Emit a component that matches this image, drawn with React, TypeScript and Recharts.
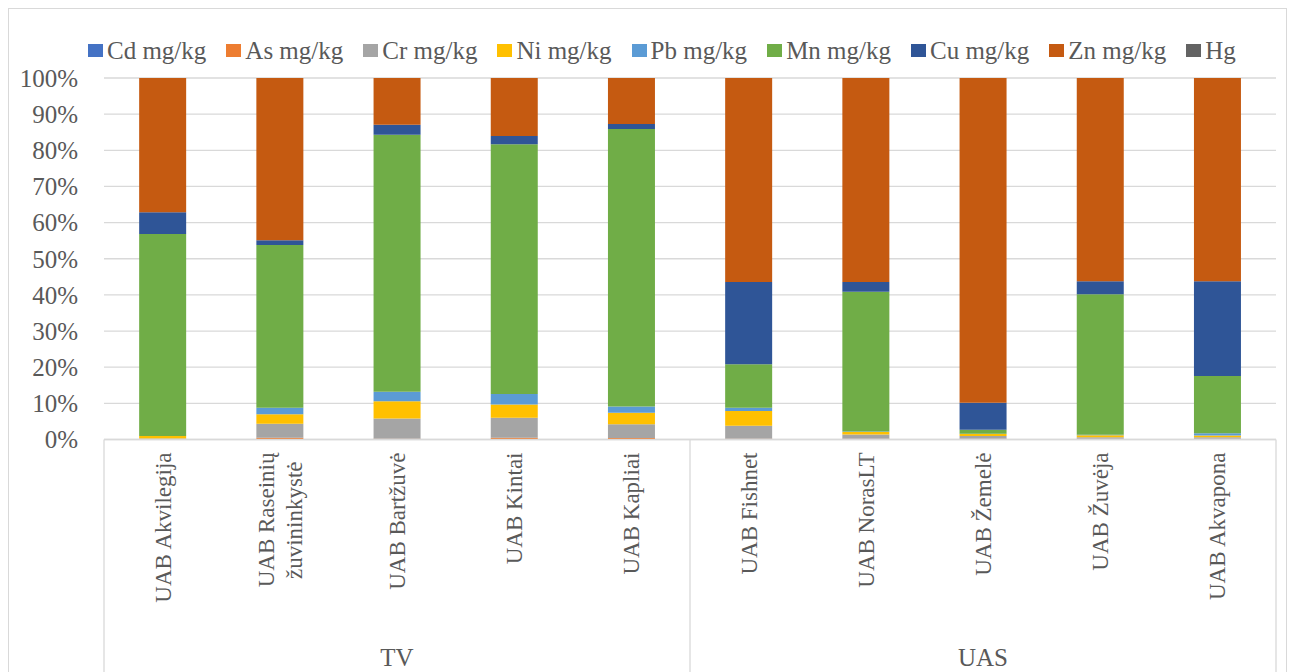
import React from 'react';
import { BarChart, Bar, XAxis, YAxis, CartesianGrid } from 'recharts';

const companies = [
  'UAB Akvilegija',
  'UAB Raseinių\nžuvininkystė',
  'UAB Bartžuvė',
  'UAB Kintai',
  'UAB Kapliai',
  'UAB Fishnet',
  'UAB NorasLT',
  'UAB Žemelė',
  'UAB Žuvėja',
  'UAB Akvapona',
];
const groups = ['TV', 'TV', 'TV', 'TV', 'TV', 'UAS', 'UAS', 'UAS', 'UAS', 'UAS'];

const seriesNames = ['Cd mg/kg', 'As mg/kg', 'Cr mg/kg', 'Ni mg/kg', 'Pb mg/kg', 'Mn mg/kg', 'Cu mg/kg', 'Zn mg/kg', 'Hg'];
const seriesKeys = ['cd', 'as', 'cr', 'ni', 'pb', 'mn', 'cu', 'zn', 'hg'];
const seriesColors = ['#4472C4', '#ED7D31', '#A5A5A5', '#FFC000', '#5B9BD5', '#70AD47', '#2F5597', '#C55A11', '#636363'];

const cd = [0, 0.05, 0, 0, 0, 0, 0, 0, 0, 0];
const asv = [0.1, 0.4, 0.2, 0.5, 0.4, 0.2, 0.2, 0.2, 0.2, 0.2];
const cr = [0.2, 3.9, 5.6, 5.5, 3.8, 3.6, 1.2, 0.8, 0.4, 0.4];
const ni = [0.65, 2.65, 4.8, 3.7, 3.2, 4.1, 0.7, 0.5, 0.6, 0.5];
const pb = [0.05, 1.8, 2.6, 2.9, 1.7, 0.9, 0.1, 0.1, 0.1, 0.6];
const mn = [55.85, 45.0, 71.1, 69.1, 76.8, 12.0, 38.7, 1.1, 38.9, 15.9];
const cu = [6.0, 1.3, 2.8, 2.25, 1.4, 22.8, 2.7, 7.5, 3.55, 26.15];
const zn = [37.15, 44.9, 12.9, 16.05, 12.7, 56.4, 56.4, 89.8, 56.25, 56.25];
const hg = [0, 0, 0, 0, 0, 0, 0, 0, 0, 0];

const yTicks = [0, 0.1, 0.2, 0.3, 0.4, 0.5, 0.6, 0.7, 0.8, 0.9, 1];

const seriesValues = [cd, asv, cr, ni, pb, mn, cu, zn, hg];

const data = companies.map((name, i) => {
  const row: Record<string, any> = { name, group: groups[i] };
  seriesKeys.forEach((k, s) => {
    row[k] = seriesValues[s][i];
  });
  return row;
});

const FONT = "'Liberation Serif', 'Times New Roman', Times, serif";
const TEXT = '#595959';
const GRID = '#d9d9d9';
const MAIN_AXIS_H = 180;
const GROUP_AXIS_H = 52.5;
const CHART_H = 672;

const CategoryTick = (props: any) => {
  const { x, y, payload } = props;
  const lines = String(payload.value).split('\n');
  const top = y + 13;
  if (lines.length === 1) {
    return (
      <text
        transform={`translate(${x},${top}) rotate(-90)`}
        textAnchor="end"
        dy="0.35em"
        fontFamily={FONT}
        fontSize={23}
        fill={TEXT}
      >
        {lines[0]}
      </text>
    );
  }
  return (
    <g>
      <text
        transform={`translate(${x - 14},${top}) rotate(-90)`}
        textAnchor="end"
        dy="0.35em"
        fontFamily={FONT}
        fontSize={23}
        fill={TEXT}
      >
        {lines[0]}
      </text>
      <text
        transform={`translate(${x + 14},${top + 9}) rotate(-90)`}
        textAnchor="end"
        dy="0.35em"
        fontFamily={FONT}
        fontSize={23}
        fill={TEXT}
      >
        {lines[1]}
      </text>
    </g>
  );
};

const GroupTick = (props: any) => {
  const { x, y, payload, index, visibleTicksCount, width } = props;
  const half = payload && payload.offset > 0 ? payload.offset : width / visibleTicksCount / 2;
  const top = y - MAIN_AXIS_H;
  return (
    <g>
      <line x1={x - half} x2={x - half} y1={top} y2={CHART_H} stroke={GRID} strokeWidth={1.3} />
      {index === visibleTicksCount - 1 && (
        <line x1={x + half} x2={x + half} y1={top} y2={CHART_H} stroke={GRID} strokeWidth={1.3} />
      )}
      <text x={x} y={CHART_H - 6} textAnchor="middle" fontFamily={FONT} fontSize={25} fill={TEXT}>
        {payload.value}
      </text>
    </g>
  );
};

export default function App() {
  return (
    <div style={{ position: 'absolute', left: 0, top: 0, width: 1295, height: 672, background: '#fff', overflow: 'hidden' }}>
      <div
        style={{
          position: 'absolute',
          left: 8,
          top: 8,
          width: 1279,
          height: 680,
          border: `1px solid ${GRID}`,
          boxSizing: 'border-box',
        }}
      />
      <div
        style={{
          position: 'absolute',
          left: 88,
          top: 36,
          height: 28,
          display: 'flex',
          alignItems: 'center',
          whiteSpace: 'nowrap',
          fontFamily: FONT,
          fontSize: 25,
          color: TEXT,
          lineHeight: 1,
        }}
      >
        {seriesNames.map((n, i) => (
          <div key={n} style={{ display: 'flex', alignItems: 'center', marginRight: 20 }}>
            <span style={{ display: 'inline-block', width: 15, height: 13, background: seriesColors[i], marginRight: 4 }} />
            <span>{n}</span>
          </div>
        ))}
      </div>
      <div style={{ position: 'absolute', left: 0, top: 0 }}>
        <BarChart
          width={1295}
          height={CHART_H}
          data={data}
          stackOffset="expand"
          barCategoryGap="30%"
          margin={{ top: 78, right: 19, bottom: 0, left: 0 }}
        >
          <CartesianGrid vertical={false} stroke={GRID} strokeWidth={1.3} />
          <XAxis
            dataKey="name"
            interval={0}
            height={MAIN_AXIS_H}
            tickLine={false}
            tickSize={0}
            tickMargin={0}
            axisLine={{ stroke: GRID, strokeWidth: 1.3 }}
            tick={<CategoryTick />}
          />
          <XAxis
            xAxisId="grp"
            dataKey="group"
            allowDuplicatedCategory={false}
            interval={0}
            height={GROUP_AXIS_H}
            tickLine={false}
            tickSize={0}
            tickMargin={0}
            axisLine={false}
            tick={<GroupTick />}
          />
          <YAxis
            width={104}
            domain={[0, 1]}
            ticks={yTicks}
            interval={0}
            axisLine={false}
            tickLine={false}
            tickSize={0}
            tickMargin={26}
            tickFormatter={(v: number) => `${Math.round(v * 100)}%`}
            tick={{ fontFamily: FONT, fontSize: 25, fill: TEXT }}
          />
          {seriesKeys.map((k, i) => (
            <Bar key={k} dataKey={k} name={seriesNames[i]} stackId="a" fill={seriesColors[i]} isAnimationActive={false} />
          ))}
        </BarChart>
      </div>
    </div>
  );
}
